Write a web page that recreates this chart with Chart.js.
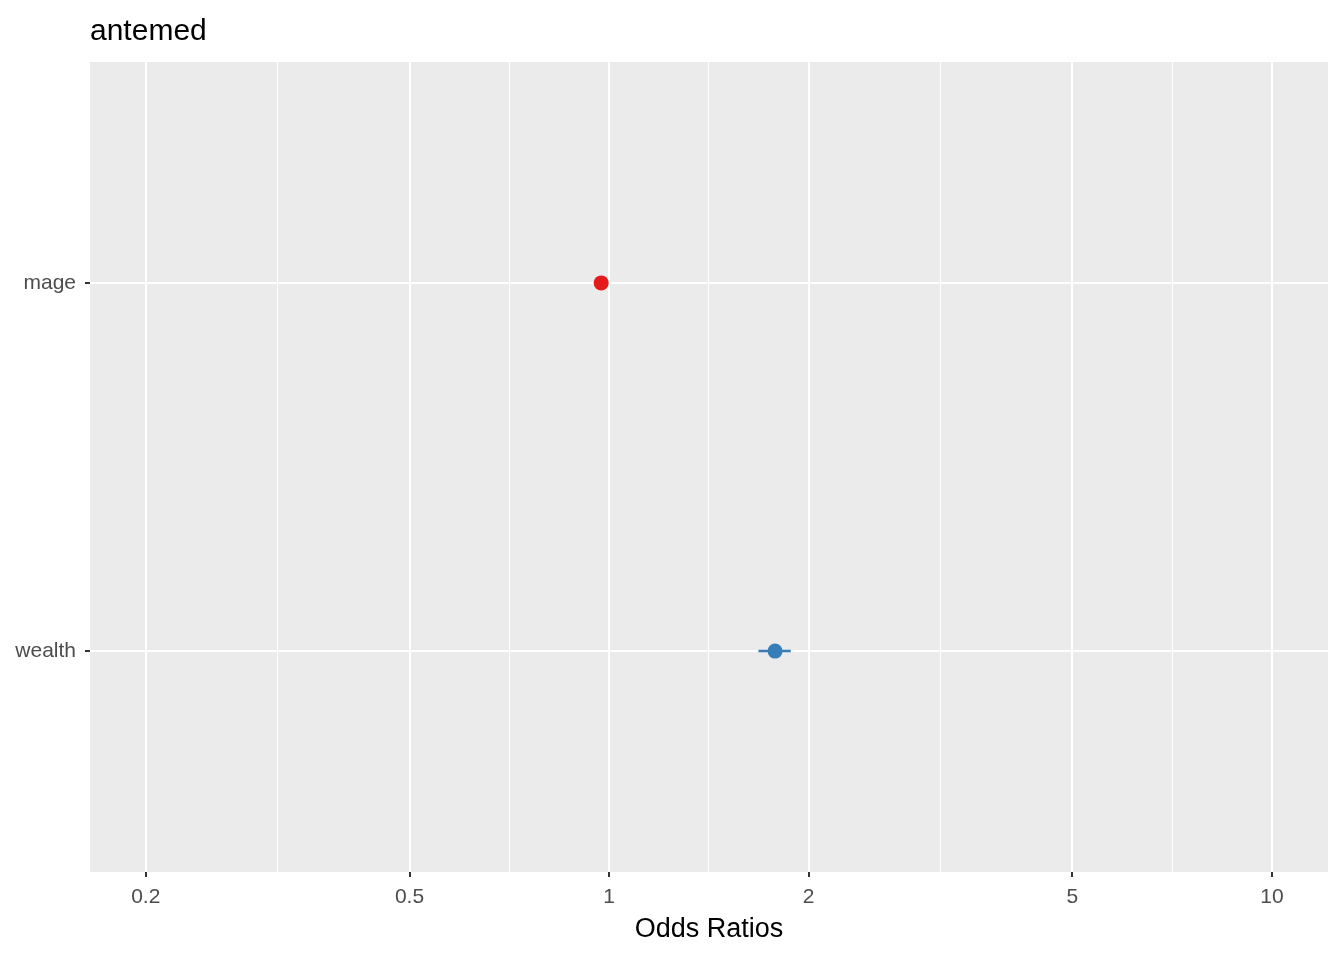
<!DOCTYPE html>
<html>
<head>
<meta charset="utf-8">
<script src="https://cdn.jsdelivr.net/npm/chart.js@4/dist/chart.umd.min.js"></script>
<style>
  body { margin: 0; background: #fff; }
  #wrap { width: 1344px; height: 960px; }
</style>
</head>
<body>
<div id="wrap"><canvas id="orChart"></canvas></div>
<script>
// data
const terms = ['wealth', 'mage'];
const oddsRatios = [1.78, 0.973];
const ciLow = [1.68, 0.962];
const ciHigh = [1.88, 0.985];
const termColors = ['#377EB8', '#E41A1C'];
const majorTicks = [0.2, 0.5, 1, 2, 5, 10];
const minorTicks = [0.316, 0.707, 1.414, 3.162, 7.071];

// grey panel behind the plot + title text
const panelPlugin = {
  id: 'panel',
  beforeDraw(chart) {
    const { ctx, chartArea: a } = chart;
    ctx.save();
    ctx.fillStyle = '#EBEBEB';
    ctx.fillRect(a.left, a.top, a.right - a.left, a.bottom - a.top);
    ctx.fillStyle = '#000';
    ctx.font = '30px Arial, "Liberation Sans"';
    ctx.textBaseline = 'alphabetic';
    ctx.fillText('antemed', 90, 40);
    ctx.restore();
  }
};

// horizontal error bars drawn through the scales
const errorBarPlugin = {
  id: 'errorBars',
  afterDatasetsDraw(chart) {
    const { ctx, scales } = chart;
    ctx.save();
    ctx.lineWidth = 2.5;
    terms.forEach((t, i) => {
      const y = scales.y.getPixelForValue(i + 1);
      ctx.strokeStyle = termColors[i];
      ctx.beginPath();
      ctx.moveTo(scales.x.getPixelForValue(ciLow[i]), y);
      ctx.lineTo(scales.x.getPixelForValue(ciHigh[i]), y);
      ctx.stroke();
    });
    ctx.restore();
  }
};

const points = oddsRatios.map((v, i) => ({ x: v, y: i + 1 }));

new Chart(document.getElementById('orChart'), {
  type: 'scatter',
  data: {
    datasets: [{
      data: points,
      pointRadius: 7.5,
      pointHoverRadius: 7.5,
      pointBackgroundColor: termColors,
      pointBorderColor: termColors,
      borderWidth: 0
    }]
  },
  options: {
    responsive: true,
    maintainAspectRatio: false,
    animation: false,
    layout: { padding: { top: 62, right: 16, left: 0, bottom: 0 } },
    plugins: { legend: { display: false }, tooltip: { enabled: false } },
    scales: {
      x: {
        type: 'logarithmic',
        min: 0.1648,
        max: 12.15,
        afterBuildTicks(scale) {
          scale.ticks = majorTicks.map(v => ({ value: v, major: true }))
            .concat(minorTicks.map(v => ({ value: v, major: false })));
        },
        afterFit(scale) { scale.height = 88; },
        border: { display: false },
        grid: {
          color: '#FFFFFF',
          lineWidth: c => (c.tick && c.tick.major ? 2 : 1),
          tickColor: c => (c.tick && c.tick.major ? '#333333' : 'rgba(0,0,0,0)'),
          tickLength: 5
        },
        ticks: {
          autoSkip: false,
          maxRotation: 0,
          color: '#4D4D4D',
          font: { size: 21, family: 'Arial, "Liberation Sans"' },
          padding: 8,
          callback: (v) => (majorTicks.includes(v) ? String(v) : '')
        },
        title: {
          display: true,
          text: 'Odds Ratios',
          color: '#000',
          font: { size: 27, family: 'Arial, "Liberation Sans"' },
          padding: { top: 0, bottom: 14 }
        }
      },
      y: {
        type: 'linear',
        min: 0.4,
        max: 2.6,
        afterBuildTicks(scale) {
          scale.ticks = terms.map((t, i) => ({ value: i + 1 }));
        },
        afterFit(scale) { scale.width = 90; },
        border: { display: false },
        grid: { color: '#FFFFFF', lineWidth: 2, tickColor: '#333333', tickLength: 5 },
        ticks: {
          color: '#4D4D4D',
          font: { size: 21, family: 'Arial, "Liberation Sans"' },
          padding: 9,
          callback: (v) => terms[v - 1] || ''
        }
      }
    }
  },
  plugins: [panelPlugin, errorBarPlugin]
});
</script>
</body>
</html>
